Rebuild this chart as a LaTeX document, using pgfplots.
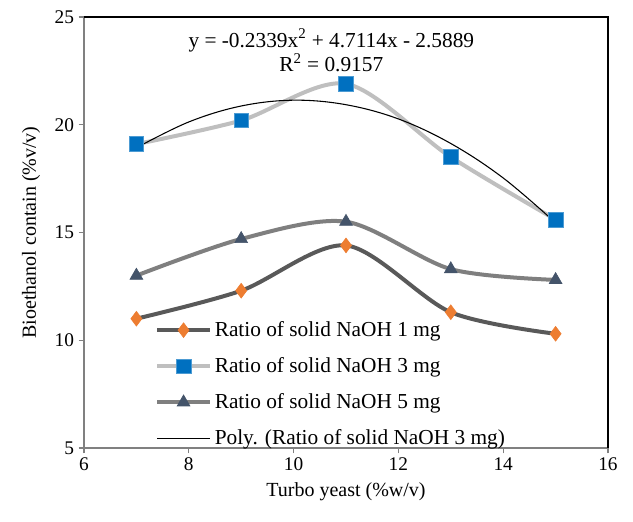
\documentclass[border=0pt]{standalone}
\usepackage{fontspec}
\setmainfont{Liberation Serif}
\newfontfamily\tnr{Liberation Serif}
\usepackage{pgfplots}
\pgfplotsset{compat=1.18}
\definecolor{ser1line}{HTML}{595959}
\definecolor{ser1mark}{HTML}{ED7D31}
\definecolor{ser2line}{HTML}{BFBFBF}
\definecolor{ser2mark}{HTML}{0070C0}
\definecolor{ser3line}{HTML}{7F7F7F}
\definecolor{ser3mark}{HTML}{44546A}
\definecolor{axgray}{HTML}{808080}
\begin{document}
\tnr
\begin{tikzpicture}
  \useasboundingbox (-63pt,-55.5pt) rectangle (411.75pt,336pt);
  \begin{axis}[
      at={(0,0)}, anchor=south west,
      scale only axis,
      width=393pt, height=323.25pt,
      xmin=6, xmax=16, ymin=5, ymax=25,
      xtick={6,8,...,16}, ytick={5,10,...,25},
      axis lines=left,
      axis line style={-, axgray, line width=1pt},
      tick style={axgray, line width=0.8pt},
      tick align=outside,
      major tick length=4pt,
      ticklabel style={font=\tnr\fontsize{14.5}{16}\selectfont},
      /pgf/number format/assume math mode=true,
      xlabel={Turbo yeast (\%w/v)},
      ylabel={Bioethanol contain (\%v/v)},
      label style={font=\tnr\fontsize{15}{17}\selectfont},
      xlabel style={yshift=-2pt},
      ylabel style={yshift=4pt},
      legend style={draw=none, fill=none, at={(rel axis cs:0.135,0.3)}, anchor=north west,
        font=\tnr\fontsize{16}{18}\selectfont, row sep=10.3pt, inner sep=0pt},
      legend cell align=left,
      every axis plot/.append style={smooth, tension=0.5},
      legend image code/.code={
        \draw[mark repeat=2, mark phase=2] plot coordinates {(0cm,0cm) (0.7cm,0cm) (1.4cm,0cm)};
      },
      clip=false,
    ]
    \addplot[ser1line, line width=3pt, mark=diamond*, mark size=5.5pt,
      mark options={fill=ser1mark, draw=ser1mark, line width=0.5pt}]
      coordinates {(7,11) (9,12.3) (11,14.4) (13,11.3) (15,10.3)};
    \addlegendentry{Ratio of solid NaOH 1 mg}
    \addplot[ser2line, line width=3pt, mark=square*, mark size=5.5pt,
      mark options={fill=ser2mark, draw=ser2mark!70!white, line width=0.5pt}]
      coordinates {(7,19.1) (9,20.2) (11,21.9) (13,18.5) (15,15.6)};
    \addlegendentry{Ratio of solid NaOH 3 mg}
    \addplot[ser3line, line width=3pt, mark=triangle*, mark size=5.5pt,
      mark options={fill=ser3mark, draw=ser3mark, line width=0.5pt}]
      coordinates {(7,13) (9,14.7) (11,15.5) (13,13.3) (15,12.8)};
    \addlegendentry{Ratio of solid NaOH 5 mg}
    \addplot[black, line width=0.8pt, no marks, tension=0.6]
      coordinates {(7,18.93) (8,20.13) (9,20.87) (10,21.14) (11,20.93) (12,20.27) (13,19.13) (14,17.53) (15,15.45)};
    \addlegendentry{Poly. (Ratio of solid NaOH 3 mg)}
    \draw[black, line width=1pt] (rel axis cs:0,1) -- (rel axis cs:1,1) -- (rel axis cs:1,0);
    \node[align=center, font=\tnr\fontsize{16}{18.5}\selectfont, inner sep=0pt]
      at (axis cs:10.72,23.45) {y = -0.2339x\textsuperscript{2} + 4.7114x - 2.5889\\R\textsuperscript{2} = 0.9157};
  \end{axis}
\end{tikzpicture}
\end{document}
